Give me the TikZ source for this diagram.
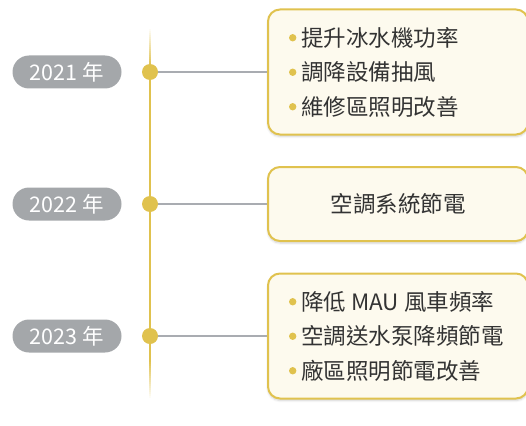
\documentclass[tikz,border=0pt]{standalone}
\usepackage{fontspec}
\setmainfont{Noto Sans CJK TC}
\usepackage{xcolor}
\usetikzlibrary{positioning,shadows.blur}
\definecolor{gold}{HTML}{E0C24E}
\definecolor{cream}{HTML}{FDFAEE}
\definecolor{pill}{HTML}{A4A7AA}
\definecolor{link}{HTML}{A9ACB1}
\definecolor{ink}{HTML}{333333}
\newcommand{\bul}{\tikz[baseline=-8.3pt]\fill[gold] (0,0) circle (3.7pt);\hspace{5pt}}
\newcommand{\gap}{\hspace{5pt}}

\begin{document}
\begin{tikzpicture}[x=1pt, y=-1pt,
  yearpill/.style={fill=pill, text=white, rounded corners=16.5pt,
    minimum width=109pt, minimum height=33pt, inner sep=0pt,
    font=\fontsize{21.5}{24}\selectfont},
  yeardot/.style={circle, fill=gold, minimum size=16pt, inner sep=0pt},
  itembox/.style={draw=gold, line width=2pt, fill=cream, rounded corners=12pt,
    text width=218pt, inner xsep=21pt, inner ysep=0pt, text=ink,
    font=\fontsize{22.5}{34.5}\selectfont,
    blur shadow={shadow xshift=0pt, shadow yshift=-2pt, shadow blur steps=6,
      shadow opacity=18}},
  linkline/.style={draw=link, line width=1.5pt}]
  \useasboundingbox (0,0) rectangle (526,425);

  % Timeline axis, fading at both ends
  \fill[gold] (148.5,64) rectangle (151,362);
  \foreach \i in {0,...,18} {
    \fill[gold, opacity=\i/19] (148.5,27+2*\i) rectangle (151,29+2*\i);
    \fill[gold, opacity=\i/19] (148.5,400-2*\i) rectangle (151,398-2*\i);
  }

  % Years
  \node[yearpill] (y21) at (67,72) {2021\gap 年};
  \node[yearpill] (y22) at (67,204) {2022\gap 年};
  \node[yearpill] (y23) at (67,336) {2023\gap 年};

  % Items
  \node[itembox, minimum height=125pt, align=left] (b21) at (398,72)
    {\bul 提升冰水機功率\\ \bul 調降設備抽風\\ \bul 維修區照明改善};
  \node[itembox, minimum height=74pt, align=center] (b22) at (398,204)
    {空調系統節電};
  \node[itembox, minimum height=125pt, align=left] (b23) at (398,336)
    {\bul 降低\gap MAU\gap 風車頻率\\ \bul 空調送水泵降頻節電\\ \bul 廠區照明節電改善};

  % Dots and links
  \foreach \yr/\yy in {21/72, 22/204, 23/336} {
    \node[yeardot] (d\yr) at (150,\yy) {};
    \draw[linkline] (d\yr.east) -- (b\yr.west);
  }
\end{tikzpicture}
\end{document}
